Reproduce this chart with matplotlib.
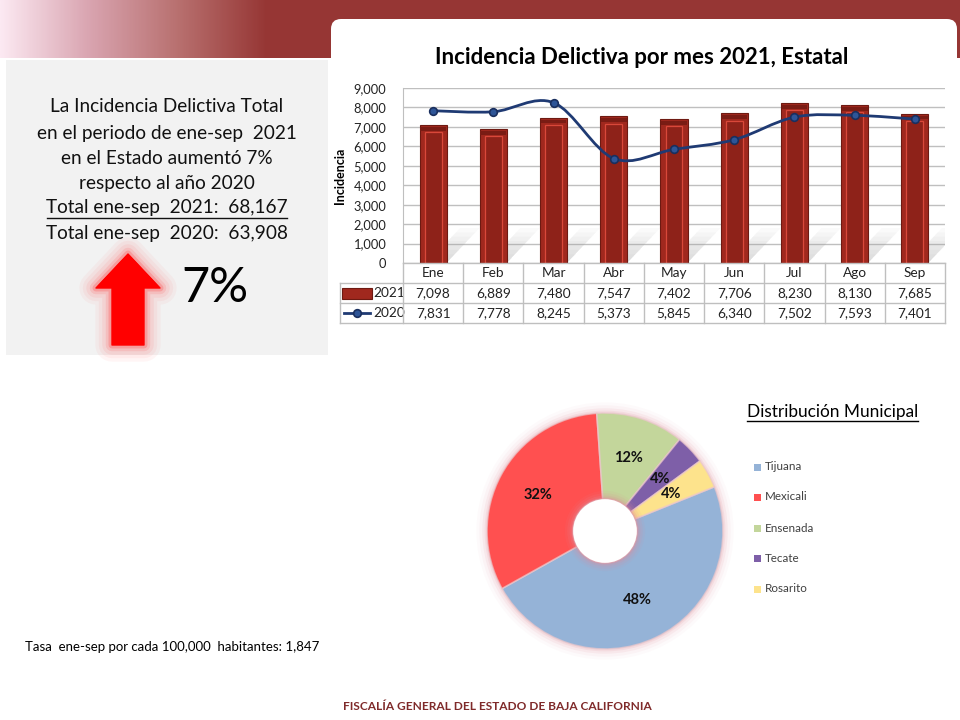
import numpy as np
import matplotlib
matplotlib.use("Agg")
import matplotlib.pyplot as plt
from matplotlib.patches import Rectangle, FancyBboxPatch, Polygon, Circle, PathPatch
from matplotlib.path import Path
from matplotlib.lines import Line2D
import matplotlib.patheffects as pe
import matplotlib.transforms as mtransforms
from matplotlib.colors import LinearSegmentedColormap

plt.rcParams['font.family'] = ['Lato', 'DejaVu Sans']

# ---------------- data ----------------
months = ['Ene', 'Feb', 'Mar', 'Abr', 'May', 'Jun', 'Jul', 'Ago', 'Sep']
values_2021 = [7098, 6889, 7480, 7547, 7402, 7706, 8230, 8130, 7685]
values_2020 = [7831, 7778, 8245, 5373, 5845, 6340, 7502, 7593, 7401]
yticks = [0, 1000, 2000, 3000, 4000, 5000, 6000, 7000, 8000, 9000]

municipios = ['Tijuana', 'Mexicali', 'Ensenada', 'Tecate', 'Rosarito']
mun_share = [48, 32, 12, 4, 4]
mun_colors = ['#95B3D7', '#FF5050', '#C3D69B', '#7E5FA8', '#FDE38C']

summary_lines = ['La Incidencia Delictiva Total',
                 'en el periodo de ene-sep  2021',
                 'en el Estado aumentó 7%',
                 'respecto al año 2020',
                 'Total ene-sep  2021:  68,167',
                 'Total ene-sep  2020:  63,908']
pct_change = '7%'
tasa_text = 'Tasa  ene-sep por cada 100,000  habitantes: 1,847'
footer_text = 'FISCALÍA GENERAL DEL ESTADO DE BAJA CALIFORNIA'

W, H = 960, 720
fig = plt.figure(figsize=(9.6, 7.2), dpi=100)
fig.patch.set_facecolor('white')


def fx(x):
    return x / W


def fy(y):
    return 1 - y / H


# ---------------- background banner ----------------
bg = fig.add_axes([0, 0, 1, 1], zorder=0)
bg.set_xlim(0, W)
bg.set_ylim(H, 0)
bg.axis('off')
cmap = LinearSegmentedColormap.from_list('band', ['#FCE9F2', '#D9A4B0', '#B8706F', '#963634'])
grad = np.linspace(0, 1, 300)[None, :]
bg.imshow(grad, extent=[0, 268, 58, 0], cmap=cmap, aspect='auto', zorder=1)
bg.add_patch(Rectangle((267, 0), W - 267, 58, facecolor='#963634', edgecolor='none', zorder=1))
# grey summary box
bg.add_patch(Rectangle((6, 60), 322, 295, facecolor='#F2F2F2', edgecolor='none', zorder=2))
# white chart box with rounded corners
bg.add_patch(FancyBboxPatch((331, 19), 626, 340, boxstyle='round,pad=0,rounding_size=10',
                            facecolor='white', edgecolor='none', zorder=2))

# summary text
ys = [107, 133, 158, 184, 208, 233]
for i, (txt, yy) in enumerate(zip(summary_lines, ys)):
    bg.text(167, yy, txt, ha='center', va='center', fontsize=13.7, color='#111111', zorder=5)
    if i == 4:
        bg.plot([47, 287], [217.5, 217.5], color='#111111', lw=1.0, zorder=5)

# arrow with glow
arrow_pts = [(128, 254), (160, 288), (144, 288), (144, 345), (112, 345), (112, 288), (96, 288)]
arr = Polygon(arrow_pts, closed=True, facecolor='#FF0000', edgecolor='#FF0000', lw=1, zorder=6,
              joinstyle='round')
arr.set_path_effects([
    pe.Stroke(linewidth=24, foreground=(1, 0.3, 0.3, 0.05), joinstyle='round'),
    pe.Stroke(linewidth=19, foreground=(1, 0.3, 0.3, 0.06), joinstyle='round'),
    pe.Stroke(linewidth=14, foreground=(1, 0.25, 0.25, 0.08), joinstyle='round'),
    pe.Stroke(linewidth=9, foreground=(1, 0.2, 0.2, 0.12), joinstyle='round'),
    pe.Stroke(linewidth=5, foreground=(1, 0.1, 0.1, 0.2), joinstyle='round'),
    pe.Normal()])
bg.add_patch(arr)
bg.text(215, 288, pct_change, ha='center', va='center', fontsize=35, color='black', zorder=6)

# ---------------- bar chart ----------------
x = np.arange(len(months))
ax = fig.add_axes([fx(403), fy(263), (945 - 403) / W, 175 / H], zorder=3)
ax.set_facecolor('none')
ax.set_xlim(-0.5, len(months) - 0.5)
ax.set_ylim(0, 9000)
ax.set_yticks(yticks)
ax.set_yticklabels([f'{v:,}' for v in yticks], fontsize=9.3, color='#222222')
ax.set_xticks([])
ax.tick_params(axis='y', length=0, pad=12)
for s in ['top', 'right', 'bottom']:
    ax.spines[s].set_visible(False)
ax.spines['left'].set_color('#BFBFBF')
ax.yaxis.grid(True, color='#BFBFBF', lw=1)
ax.set_axisbelow(True)
ax.set_ylabel('Incidencia', fontsize=9, fontweight='bold', labelpad=4)
ax.yaxis.set_label_coords(-0.105, 0.5)

# cast shadows
for xi in x:
    for k in range(8):
        h = 1800 * (k + 1) / 8
        shadow = Polygon([(xi - 0.1, 0), (xi + 0.22, 0), (xi + 0.22 + 0.55 * h / 1800, h),
                          (xi - 0.1 + 0.55 * h / 1800, h)], closed=True,
                         facecolor='#A0A0A0', edgecolor='none', alpha=0.05, zorder=1)
        ax.add_patch(shadow)

bw = 0.45
ax.bar(x, values_2021, width=bw, color='#A0281E', edgecolor='#6E1A12', lw=0.8, zorder=3)
ax.bar(x, np.array(values_2021) - 380, width=bw * 0.62, color='#8E2219', edgecolor='#D9483A',
       lw=0.9, zorder=4)
ax.bar(x, [200] * len(x), bottom=np.array(values_2021) - 300, width=bw * 0.95, color='#7A1C14',
       edgecolor='none', zorder=4)

# smoothed 2020 line (Catmull-Rom -> Bezier through the data points)
pts = np.column_stack([x, values_2020]).astype(float)
verts = [pts[0]]
codes = [Path.MOVETO]
n = len(pts)
for i in range(n - 1):
    p0 = pts[i - 1] if i > 0 else pts[i]
    p1 = pts[i]
    p2 = pts[i + 1]
    p3 = pts[i + 2] if i + 2 < n else pts[i + 1]
    c1 = p1 + (p2 - p0) / 6
    c2 = p2 - (p3 - p1) / 6
    verts += [c1, c2, p2]
    codes += [Path.CURVE4] * 3
ax.add_patch(PathPatch(Path(verts, codes), fill=False, edgecolor='#1F3A73', lw=2, zorder=5))
ax.plot(x, values_2020, ls='none', marker='o', ms=5.5, mfc='#2E5597', mec='#1A2F5E', mew=1.2, zorder=6)

# table under the chart
tr = mtransforms.blended_transform_factory(ax.transData, fig.transFigure)
grid_c = '#BFBFBF'
row_y = [263, 283, 303, 323]
for i in range(len(months) + 1):
    xl = i - 0.5
    fig.add_artist(Line2D([xl, xl], [fy(263), fy(323)], transform=tr, color=grid_c, lw=1, zorder=4))
for yy in row_y:
    fig.add_artist(Line2D([fx(403 if yy == 263 else 340), fx(945)], [fy(yy), fy(yy)],
                          transform=fig.transFigure, color=grid_c, lw=1, zorder=4))
fig.add_artist(Line2D([fx(340), fx(340)], [fy(283), fy(323)], transform=fig.transFigure,
                      color=grid_c, lw=1, zorder=4))
for xi, m, v21, v20 in zip(x, months, values_2021, values_2020):
    fig.text(xi, fy(273), m, transform=tr, ha='center', va='center', fontsize=9.8, color='#222222')
    fig.text(xi, fy(293), f'{v21:,}', transform=tr, ha='center', va='center', fontsize=9.8, color='#222222')
    fig.text(xi, fy(313), f'{v20:,}', transform=tr, ha='center', va='center', fontsize=9.8, color='#222222')
# legend keys in first column
fig.add_artist(Rectangle((fx(342), fy(299)), 30 / W, 11 / H, transform=fig.transFigure,
                         facecolor='#A0281E', edgecolor='#6E1A12', lw=0.8))
fig.text(fx(373), fy(293), '2021', ha='left', va='center', fontsize=9.8, color='#222222')
fig.add_artist(Line2D([fx(344), fx(370)], [fy(313), fy(313)], transform=fig.transFigure,
                      color='#1F3A73', lw=2))
fig.add_artist(Line2D([fx(357)], [fy(313)], transform=fig.transFigure, ls='none', marker='o',
                      ms=5.5, mfc='#2E5597', mec='#1A2F5E', mew=1.2))
fig.text(fx(373), fy(313), '2020', ha='left', va='center', fontsize=9.8, color='#222222')

fig.text(fx(642), fy(57), 'Incidencia Delictiva por mes 2021, Estatal', ha='center', va='center',
         fontsize=16, fontweight='bold', color='black')

# ---------------- donut ----------------
cx, cy, R = 605, 531, 118
pad = 14
pax = fig.add_axes([fx(cx - R - pad), fy(cy + R + pad), (2 * R + 2 * pad) / W, (2 * R + 2 * pad) / H], zorder=3)
pax.axis('off')
for rr, a in [(1.09, 0.04), (1.065, 0.06), (1.04, 0.10), (1.02, 0.14)]:
    pax.add_patch(Circle((0, 0), rr, facecolor=(0.88, 0.55, 0.6, a), edgecolor='none', zorder=0))
wedges, _, autotexts = pax.pie(mun_share, colors=mun_colors, startangle=22, counterclock=False,
                               radius=1, wedgeprops=dict(width=0.73, edgecolor=(0.92, 0.78, 0.8, 0.7), lw=1.2),
                               autopct='%1.0f%%', pctdistance=0.645,
                               textprops=dict(fontsize=10.5, fontweight='bold', color='#111111'))
for r, a in [(0.34, 0.08), (0.32, 0.12), (0.30, 0.2), (0.285, 0.3)]:
    pax.add_patch(Circle((0, 0), r, facecolor=(0.88, 0.55, 0.6, a), edgecolor='none', zorder=3))
pax.add_patch(Circle((0, 0), 0.27, facecolor='white', edgecolor='none', zorder=4))
lim = (R + pad) / R
pax.set_xlim(-lim, lim)
pax.set_ylim(-lim, lim)
pax.set_aspect('equal')

# legend
fig.text(fx(747), fy(412), 'Distribución Municipal', ha='left', va='center', fontsize=12.4, color='black')
fig.add_artist(Line2D([fx(747), fx(918)], [fy(421), fy(421)], transform=fig.transFigure, color='black', lw=1))
leg_y = [467, 497, 528, 558, 589]
for name, col, yy in zip(municipios, mun_colors, leg_y):
    fig.add_artist(Rectangle((fx(754), fy(yy + 3.5)), 7 / W, 7 / H, transform=fig.transFigure,
                             facecolor=col, edgecolor='none'))
    fig.text(fx(765), fy(yy), name, ha='left', va='center', fontsize=8.4, color='#404040')

fig.text(fx(25), fy(647), tasa_text, ha='left', va='center', fontsize=9.5, color='black')
fig.text(fx(497), fy(707), footer_text, ha='center', va='center', fontsize=8.6, fontweight='bold',
         color='#7F2A2A')

fig.savefig('out.png', dpi=100)
